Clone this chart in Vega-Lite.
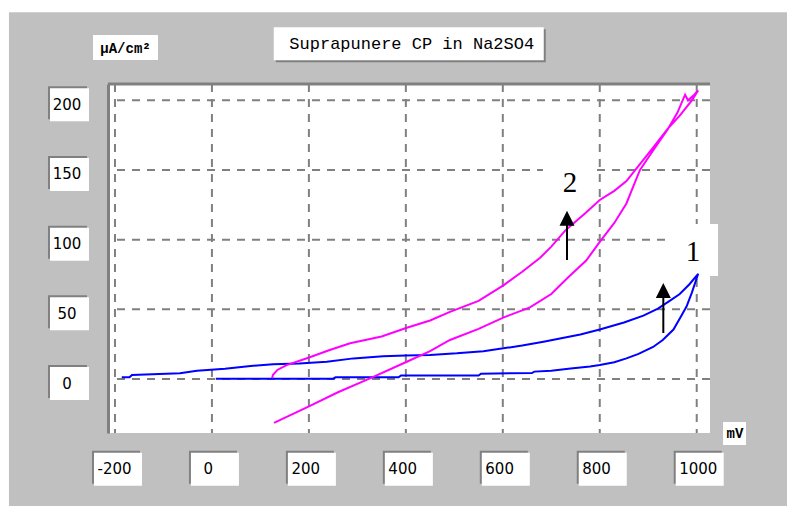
{
  "$schema": "https://vega.github.io/schema/vega-lite/v6.json",
  "width": 602,
  "height": 349,
  "autosize": {"type": "none"},
  "padding": {"left": 108, "top": 84, "right": 77, "bottom": 73},
  "background": "#c0c0c0",
  "config": {"view": {"fill": "#ffffff", "stroke": null}},
  "datasets": {
    "xticks": [{"x": -200}, {"x": 0}, {"x": 200}, {"x": 400}, {"x": 600}, {"x": 800}, {"x": 1000}],
    "yticks": [{"y": 0}, {"y": 50}, {"y": 100}, {"y": 150}, {"y": 200}],
    "notes": [
      {"label": "1", "x": 992.4, "y": 91.1, "ax": 931.1, "head": 63.5, "tail": 33.0},
      {"label": "2", "x": 738.6, "y": 140.7, "ax": 732.4, "head": 115.4, "tail": 85.4}
    ],
    "heading": [{"text": "Suprapunere CP in Na2SO4", "x": 406, "y": 240.6}],
    "curves": [
      {"curve": "1", "i": 1, "x": 8, "y": 0.2},
      {"curve": "1", "i": 2, "x": 250, "y": 0.2},
      {"curve": "1", "i": 3, "x": 255, "y": 1.2},
      {"curve": "1", "i": 4, "x": 385, "y": 1.2},
      {"curve": "1", "i": 5, "x": 390, "y": 2.5},
      {"curve": "1", "i": 6, "x": 550, "y": 2.5},
      {"curve": "1", "i": 7, "x": 555, "y": 3.8},
      {"curve": "1", "i": 8, "x": 660, "y": 4.3},
      {"curve": "1", "i": 9, "x": 665, "y": 5.3},
      {"curve": "1", "i": 10, "x": 700, "y": 6},
      {"curve": "1", "i": 11, "x": 740, "y": 7.5},
      {"curve": "1", "i": 12, "x": 780, "y": 9},
      {"curve": "1", "i": 13, "x": 800, "y": 10},
      {"curve": "1", "i": 14, "x": 830, "y": 12},
      {"curve": "1", "i": 15, "x": 855, "y": 14.8},
      {"curve": "1", "i": 16, "x": 880, "y": 18},
      {"curve": "1", "i": 17, "x": 910, "y": 23},
      {"curve": "1", "i": 18, "x": 930, "y": 28},
      {"curve": "1", "i": 19, "x": 952, "y": 35.5},
      {"curve": "1", "i": 20, "x": 966, "y": 44},
      {"curve": "1", "i": 21, "x": 979, "y": 52},
      {"curve": "1", "i": 22, "x": 990, "y": 62},
      {"curve": "1", "i": 23, "x": 1003, "y": 75.5},
      {"curve": "1", "i": 24, "x": 985, "y": 68},
      {"curve": "1", "i": 25, "x": 965, "y": 61},
      {"curve": "1", "i": 26, "x": 945, "y": 56.3},
      {"curve": "1", "i": 27, "x": 920, "y": 50.5},
      {"curve": "1", "i": 28, "x": 890, "y": 45.5},
      {"curve": "1", "i": 29, "x": 850, "y": 40.5},
      {"curve": "1", "i": 30, "x": 800, "y": 35.5},
      {"curve": "1", "i": 31, "x": 760, "y": 32},
      {"curve": "1", "i": 32, "x": 718, "y": 29},
      {"curve": "1", "i": 33, "x": 684, "y": 26.7},
      {"curve": "1", "i": 34, "x": 640, "y": 24},
      {"curve": "1", "i": 35, "x": 601, "y": 22},
      {"curve": "1", "i": 36, "x": 560, "y": 20},
      {"curve": "1", "i": 37, "x": 505, "y": 18.4},
      {"curve": "1", "i": 38, "x": 450, "y": 17.3},
      {"curve": "1", "i": 39, "x": 400, "y": 16.8},
      {"curve": "1", "i": 40, "x": 353, "y": 16.3},
      {"curve": "1", "i": 41, "x": 292, "y": 14.8},
      {"curve": "1", "i": 42, "x": 237, "y": 12.4},
      {"curve": "1", "i": 43, "x": 180, "y": 11.2},
      {"curve": "1", "i": 44, "x": 126, "y": 10.6},
      {"curve": "1", "i": 45, "x": 75, "y": 9.2},
      {"curve": "1", "i": 46, "x": 27, "y": 7.4},
      {"curve": "1", "i": 47, "x": -31, "y": 6},
      {"curve": "1", "i": 48, "x": -66, "y": 4.1},
      {"curve": "1", "i": 49, "x": -165, "y": 2.9},
      {"curve": "1", "i": 50, "x": -170, "y": 1.2},
      {"curve": "1", "i": 51, "x": -186, "y": 1.2},
      {"curve": "2", "i": 1, "x": 128, "y": -31.5},
      {"curve": "2", "i": 2, "x": 199, "y": -19.8},
      {"curve": "2", "i": 3, "x": 260, "y": -9.5},
      {"curve": "2", "i": 4, "x": 326, "y": 0.5},
      {"curve": "2", "i": 5, "x": 402, "y": 12.4},
      {"curve": "2", "i": 6, "x": 450, "y": 20},
      {"curve": "2", "i": 7, "x": 491, "y": 28},
      {"curve": "2", "i": 8, "x": 550, "y": 36},
      {"curve": "2", "i": 9, "x": 602, "y": 44.2},
      {"curve": "2", "i": 10, "x": 656, "y": 51.4},
      {"curve": "2", "i": 11, "x": 700, "y": 61},
      {"curve": "2", "i": 12, "x": 735, "y": 73},
      {"curve": "2", "i": 13, "x": 772, "y": 85},
      {"curve": "2", "i": 14, "x": 800, "y": 98.4},
      {"curve": "2", "i": 15, "x": 830, "y": 112},
      {"curve": "2", "i": 16, "x": 855, "y": 126},
      {"curve": "2", "i": 17, "x": 870, "y": 139},
      {"curve": "2", "i": 18, "x": 883, "y": 150},
      {"curve": "2", "i": 19, "x": 910, "y": 164},
      {"curve": "2", "i": 20, "x": 940, "y": 179},
      {"curve": "2", "i": 21, "x": 960, "y": 191},
      {"curve": "2", "i": 22, "x": 976, "y": 204},
      {"curve": "2", "i": 23, "x": 982, "y": 200},
      {"curve": "2", "i": 24, "x": 995, "y": 204},
      {"curve": "2", "i": 25, "x": 1003, "y": 207},
      {"curve": "2", "i": 26, "x": 990, "y": 200},
      {"curve": "2", "i": 27, "x": 965, "y": 189},
      {"curve": "2", "i": 28, "x": 940, "y": 179.5},
      {"curve": "2", "i": 29, "x": 910, "y": 166},
      {"curve": "2", "i": 30, "x": 880, "y": 153},
      {"curve": "2", "i": 31, "x": 855, "y": 142},
      {"curve": "2", "i": 32, "x": 830, "y": 135},
      {"curve": "2", "i": 33, "x": 800, "y": 128.5},
      {"curve": "2", "i": 34, "x": 770, "y": 119},
      {"curve": "2", "i": 35, "x": 730, "y": 107},
      {"curve": "2", "i": 36, "x": 700, "y": 95},
      {"curve": "2", "i": 37, "x": 677, "y": 87},
      {"curve": "2", "i": 38, "x": 640, "y": 77},
      {"curve": "2", "i": 39, "x": 602, "y": 67.4},
      {"curve": "2", "i": 40, "x": 550, "y": 56},
      {"curve": "2", "i": 41, "x": 491, "y": 48.2},
      {"curve": "2", "i": 42, "x": 450, "y": 42},
      {"curve": "2", "i": 43, "x": 402, "y": 36.8},
      {"curve": "2", "i": 44, "x": 350, "y": 30.5},
      {"curve": "2", "i": 45, "x": 285, "y": 25.6},
      {"curve": "2", "i": 46, "x": 240, "y": 20.5},
      {"curve": "2", "i": 47, "x": 199, "y": 15.3},
      {"curve": "2", "i": 48, "x": 154, "y": 10},
      {"curve": "2", "i": 49, "x": 135, "y": 6.5},
      {"curve": "2", "i": 50, "x": 126, "y": 3},
      {"curve": "2", "i": 51, "x": 124, "y": 0.5}
    ]
  },
  "layer": [
    {
      "data": {"values": [{}]},
      "mark": {"type": "rect", "color": "#ffffff"},
      "encoding": {
        "x": {"datum": -600, "type": "quantitative"},
        "x2": {"datum": 1400},
        "y": {"datum": 263.1, "type": "quantitative"},
        "y2": {"datum": 320}
      }
    },
    {
      "data": {"values": [{}]},
      "mark": {"type": "rect", "color": "#ffffff"},
      "encoding": {
        "x": {"datum": -600, "type": "quantitative"},
        "x2": {"datum": -418.7},
        "y": {"datum": -150, "type": "quantitative"},
        "y2": {"datum": 320}
      }
    },
    {
      "data": {"name": "xticks"},
      "mark": {"type": "rule", "color": "#808080", "strokeWidth": 2, "strokeDash": [8, 7]},
      "encoding": {"x": {"field": "x", "type": "quantitative"}}
    },
    {
      "data": {"name": "yticks"},
      "mark": {"type": "rule", "color": "#808080", "strokeWidth": 2, "strokeDash": [8, 7]},
      "encoding": {"y": {"field": "y", "type": "quantitative"}}
    },
    {
      "data": {"values": [{}]},
      "mark": {"type": "rule", "color": "#808080", "strokeWidth": 3},
      "encoding": {"y": {"datum": 211.7, "type": "quantitative"}}
    },
    {
      "data": {"name": "xticks"},
      "mark": {"type": "point", "filled": true, "color": "#808080", "opacity": 1, "strokeWidth": 0, "shape": "M-1,-0.6875H1V0.6875H-1Z", "size": 2304, "xOffset": 1, "yOffset": -1},
      "encoding": {"x": {"field": "x", "type": "quantitative"}, "y": {"datum": -64.1, "type": "quantitative"}}
    },
    {
      "data": {"name": "xticks"},
      "mark": {"type": "point", "filled": true, "color": "#ffffff", "opacity": 1, "strokeWidth": 0, "shape": "M-1,-0.6875H1V0.6875H-1Z", "size": 2304, "xOffset": 3, "yOffset": 1},
      "encoding": {"x": {"field": "x", "type": "quantitative"}, "y": {"datum": -64.1, "type": "quantitative"}}
    },
    {
      "data": {"name": "yticks"},
      "mark": {"type": "point", "filled": true, "color": "#808080", "opacity": 1, "strokeWidth": 0, "shape": "M-1,-0.846H1V0.846H-1Z", "size": 1521, "xOffset": -1, "yOffset": 2.5},
      "encoding": {"y": {"field": "y", "type": "quantitative"}, "x": {"datum": -295.9, "type": "quantitative"}}
    },
    {
      "data": {"name": "yticks"},
      "mark": {"type": "point", "filled": true, "color": "#ffffff", "opacity": 1, "strokeWidth": 0, "shape": "M-1,-0.846H1V0.846H-1Z", "size": 1521, "xOffset": 1, "yOffset": 4.5},
      "encoding": {"y": {"field": "y", "type": "quantitative"}, "x": {"datum": -295.9, "type": "quantitative"}}
    },
    {
      "data": {"name": "heading"},
      "mark": {"type": "point", "filled": true, "color": "#808080", "opacity": 1, "strokeWidth": 0, "shape": "M-1,-0.1222H1V0.1222H-1Z", "size": 72900, "xOffset": 2, "yOffset": 2},
      "encoding": {"x": {"field": "x", "type": "quantitative"}, "y": {"field": "y", "type": "quantitative"}}
    },
    {
      "data": {"name": "heading"},
      "mark": {"type": "point", "filled": true, "color": "#ffffff", "opacity": 1, "strokeWidth": 0, "shape": "M-1,-0.1222H1V0.1222H-1Z", "size": 72900, "xOffset": 0, "yOffset": 0},
      "encoding": {"x": {"field": "x", "type": "quantitative"}, "y": {"field": "y", "type": "quantitative"}}
    },
    {
      "data": {"name": "heading"},
      "mark": {"type": "text", "font": "Liberation Mono", "fontSize": 17, "color": "#000000", "align": "center", "baseline": "middle", "xOffset": 3},
      "encoding": {"x": {"field": "x", "type": "quantitative"}, "y": {"field": "y", "type": "quantitative"}, "text": {"field": "text"}}
    },
    {
      "data": {"values": [{}]},
      "mark": {"type": "point", "filled": true, "color": "#ffffff", "opacity": 1, "strokeWidth": 0, "shape": "M-1,-0.3846H1V0.3846H-1Z", "size": 4225},
      "encoding": {"x": {"datum": -178.3, "type": "quantitative"}, "y": {"datum": 237.9, "type": "quantitative"}}
    },
    {
      "data": {"values": [{}]},
      "mark": {"type": "point", "filled": true, "color": "#ffffff", "opacity": 1, "strokeWidth": 0, "shape": "square", "size": 529},
      "encoding": {"x": {"datum": 1078, "type": "quantitative"}, "y": {"datum": -39.1, "type": "quantitative"}}
    },
    {
      "data": {"name": "notes"},
      "mark": {"type": "point", "filled": true, "color": "#ffffff", "opacity": 1, "strokeWidth": 0, "shape": "square", "size": 2704, "xOffset": -1, "yOffset": -2},
      "encoding": {"x": {"field": "x", "type": "quantitative"}, "y": {"field": "y", "type": "quantitative"}}
    },
    {
      "data": {"name": "curves"},
      "mark": {"type": "line", "strokeWidth": 2, "interpolate": "linear"},
      "encoding": {
        "x": {
          "field": "x",
          "type": "quantitative",
          "scale": {"domain": [-214.4, 1027.4], "nice": false, "zero": false},
          "axis": {
            "values": [-200, 0, 200, 400, 600, 800, 1000],
            "labelExpr": "'' + datum.value",
            "grid": false,
            "ticks": false,
            "tickSize": 0,
            "domain": false,
            "labelFont": "DejaVu Sans",
            "labelFontSize": 15,
            "labelColor": "#000000",
            "labelAlign": "left",
            "labelBaseline": "middle",
            "labelPadding": 35,
            "labelOffset": {"condition": {"test": "datum.value === 0", "value": -9}, "value": -18},
            "labelFlush": false,
            "labelOverlap": false,
            "title": "mV",
            "titleX": 626.5,
            "titleY": 0.5,
            "titleAlign": "center",
            "titleBaseline": "middle",
            "titleFont": "Liberation Mono",
            "titleFontSize": 14,
            "titleFontWeight": "bold",
            "titleColor": "#000000",
            "zindex": 1
          }
        },
        "y": {
          "field": "y",
          "type": "quantitative",
          "scale": {"domain": [-38.75, 211.7], "nice": false, "zero": false},
          "axis": {
            "values": [0, 50, 100, 150, 200],
            "grid": false,
            "ticks": false,
            "tickSize": 0,
            "domain": true,
            "domainColor": "#808080",
            "domainWidth": 3,
            "labelFont": "DejaVu Sans",
            "labelFontSize": 15,
            "labelColor": "#000000",
            "labelAlign": "center",
            "labelBaseline": "middle",
            "labelPadding": 41.5,
            "labelOffset": 4,
            "labelFlush": false,
            "labelOverlap": false,
            "title": "µA/cm²",
            "titleAngle": 0,
            "titleX": 17,
            "titleY": -36,
            "titleAlign": "center",
            "titleBaseline": "middle",
            "titleFont": "Liberation Mono",
            "titleFontSize": 14,
            "titleFontWeight": "bold",
            "titleColor": "#000000",
            "zindex": 1
          }
        },
        "color": {"field": "curve", "type": "nominal", "scale": {"domain": ["1", "2"], "range": ["#0000ff", "#ff00ff"]}, "legend": null},
        "order": {"field": "i", "type": "quantitative"}
      }
    },
    {
      "data": {"name": "notes"},
      "mark": {"type": "rule", "color": "#000000", "strokeWidth": 2},
      "encoding": {"x": {"field": "ax", "type": "quantitative"}, "y": {"field": "head", "type": "quantitative"}, "y2": {"field": "tail"}}
    },
    {
      "data": {"name": "notes"},
      "mark": {"type": "point", "filled": true, "color": "#000000", "opacity": 1, "strokeWidth": 0, "shape": "M0,-1L-1,1L1,1Z", "size": 225},
      "encoding": {"x": {"field": "ax", "type": "quantitative"}, "y": {"field": "head", "type": "quantitative"}}
    },
    {
      "data": {"name": "notes"},
      "mark": {"type": "text", "font": "Liberation Serif", "fontSize": 29, "color": "#000000", "align": "center", "baseline": "middle"},
      "encoding": {"x": {"field": "x", "type": "quantitative"}, "y": {"field": "y", "type": "quantitative"}, "text": {"field": "label"}}
    }
  ]
}
